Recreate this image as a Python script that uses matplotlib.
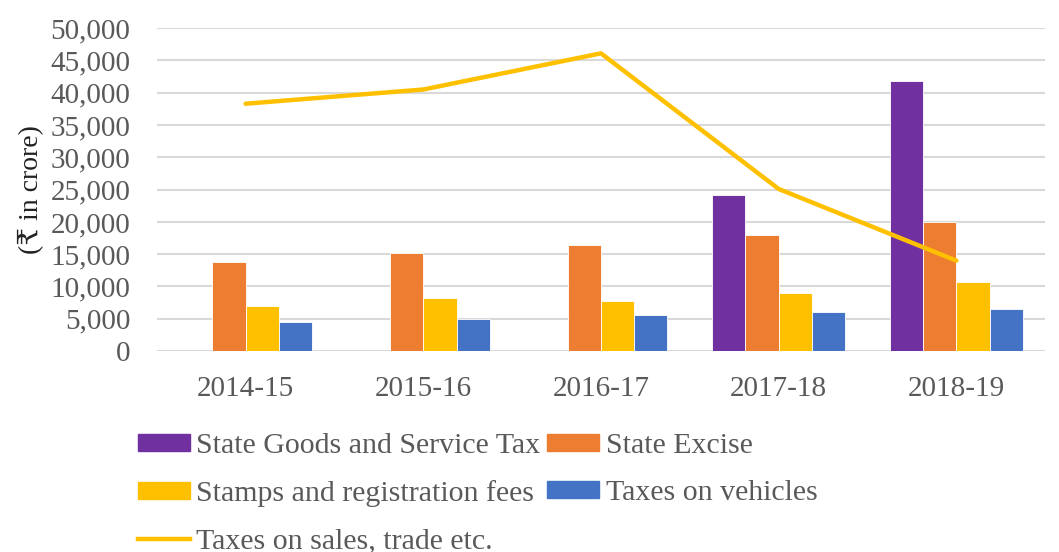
import numpy as np
import matplotlib.pyplot as plt
from matplotlib.lines import Line2D
from matplotlib.patches import Patch

plt.rcParams['font.family'] = ['Liberation Serif', 'DejaVu Serif', 'DejaVu Sans']

years = ['2014-15', '2015-16', '2016-17', '2017-18', '2018-19']
sgst = [0, 0, 0, 24100, 41800]
excise = [13800, 15200, 16400, 18000, 20000]
stamps = [7000, 8200, 7700, 9000, 10700]
vehicles = [4500, 5000, 5600, 6000, 6500]
sales = [38300, 40500, 46100, 25100, 14000]

c_sgst = '#7030A0'
c_exc = '#ED7D31'
c_stamp = '#FFC000'
c_veh = '#4472C4'
grey = '#595959'

fig = plt.figure(figsize=(10.59, 5.52), dpi=100)
ax = fig.add_axes([0.148, 0.364, 0.839, 0.585])

x = np.arange(len(years))
w = 0.187
series = [(sgst, c_sgst), (excise, c_exc), (stamps, c_stamp), (vehicles, c_veh)]
for i, (vals, col) in enumerate(series):
    ax.bar(x + (i - 1.5) * w, vals, w, color=col, edgecolor='white', linewidth=0.6, zorder=3)

ax.plot(x, sales, color=c_stamp, linewidth=3.2, solid_capstyle='round', zorder=4)

ax.set_xlim(-0.5, 4.5)
ax.set_ylim(0, 50000)
ax.set_yticks(np.arange(0, 50001, 5000))
ax.set_yticklabels(['0'] + [f'{v:,}' for v in range(5000, 50001, 5000)])
ax.set_xticks(x)
ax.set_xticklabels(years)
ax.tick_params(axis='both', length=0, labelsize=21, labelcolor=grey)
ax.tick_params(axis='x', pad=18)
ax.tick_params(axis='y', pad=19)
ax.grid(axis='y', color='#D9D9D9', linewidth=1.5, zorder=0)
for s in ax.spines.values():
    s.set_visible(False)

ax.set_ylabel('(₹ in crore)', fontsize=20, color='#222222')
ax.yaxis.set_label_coords(-0.128, 0.5)

handles = [
    Patch(color=c_sgst, label='State Goods and Service Tax'),
    Patch(color=c_stamp, label='Stamps and registration fees'),
    Line2D([0], [0], color=c_stamp, linewidth=3.2, label='Taxes on sales, trade etc.'),
    Patch(color=c_exc, label='State Excise'),
    Patch(color=c_veh, label='Taxes on vehicles'),
]
leg = fig.legend(handles=handles, ncol=2, loc='upper left', bbox_to_anchor=(0.130, 0.215),
                 frameon=False, fontsize=21.5, labelcolor=grey, handlelength=1.74,
                 handleheight=0.5, handletextpad=0.23, columnspacing=0.23,
                 labelspacing=0.7, borderpad=0, borderaxespad=0)

fig.savefig('out.png', dpi=100)
